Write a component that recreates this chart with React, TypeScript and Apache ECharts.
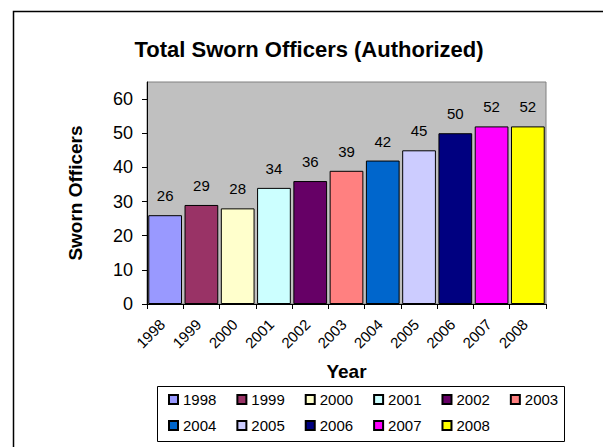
import React, { useEffect, useRef } from "react";
import * as echarts from "echarts";

const years = ["1998", "1999", "2000", "2001", "2002", "2003", "2004", "2005", "2006", "2007", "2008"];
const officers = [26, 29, 28, 34, 36, 39, 42, 45, 50, 52, 52];
const barColors = ["#9999FF", "#993366", "#FFFFCC", "#CCFFFF", "#660066", "#FF8080", "#0066CC", "#CCCCFF", "#000080", "#FF00FF", "#FFFF00"];
const yTicks = [0, 10, 20, 30, 40, 50, 60];
const legendRow1 = years.slice(0, 6);
const legendRow2 = years.slice(6);

const FONT = 'Arial, "Liberation Sans", sans-serif';

export default function App() {
  const ref = useRef<HTMLDivElement>(null);
  useEffect(() => {
    if (!ref.current) return;
    const chart = echarts.init(ref.current, null, { renderer: "svg" });
    const series = years.map((y, i) => ({
      name: y,
      type: "bar",
      stack: "all",
      barCategoryGap: "7%",
      data: years.map((_, j) => (j === i ? officers[i] : "-")),
      itemStyle: { color: barColors[i], borderColor: "#000", borderWidth: 1 },
      label: {
        show: true,
        position: "top",
        distance: 12,
        fontSize: 15,
        color: "#000",
        fontFamily: FONT,
      },
    }));
    const legendCommon = {
      left: 168,
      orient: "horizontal",
      itemWidth: 9,
      itemHeight: 9,
      itemGap: 20,
      itemTextGap: 6,
      padding: 0,
      icon: "rect",
      selectedMode: false,
      textStyle: { fontSize: 15, color: "#000", fontFamily: FONT },
    };
    chart.setOption({
      animation: false,
      backgroundColor: "#fff",
      title: {
        text: "Total Sworn Officers (Authorized)",
        left: 304,
        top: 33,
        textAlign: "center",
        textStyle: { fontSize: 22, fontWeight: "bold", color: "#000", fontFamily: FONT },
      },
      legend: [
        { ...legendCommon, top: 392, data: legendRow1 },
        { ...legendCommon, top: 418, data: legendRow2 },
      ],
      grid: {
        left: 147,
        top: 82,
        width: 399,
        height: 222,
        show: true,
        backgroundColor: "#C0C0C0",
        borderColor: "#808080",
        borderWidth: 1,
      },
      xAxis: {
        type: "category",
        data: years,
        name: "Year",
        nameLocation: "middle",
        nameGap: 58,
        nameTextStyle: { fontSize: 19, fontWeight: "bold", color: "#000", fontFamily: FONT },
        axisLine: { show: true, lineStyle: { color: "#000", width: 1 } },
        axisTick: { show: true, length: 5, interval: 0, lineStyle: { color: "#000" } },
        axisLabel: {
          rotate: 45,
          interval: 0,
          margin: 15,
          padding: [0, 4, 0, 0],
          fontSize: 15,
          color: "#000",
          fontFamily: FONT,
        },
        splitLine: { show: false },
      },
      yAxis: {
        type: "value",
        min: 0,
        max: 65,
        interval: 10,
        name: "Sworn Officers",
        nameLocation: "middle",
        nameRotate: 90,
        nameGap: 62,
        nameTextStyle: { fontSize: 19, fontWeight: "bold", color: "#000", fontFamily: FONT },
        axisLine: { show: true, lineStyle: { color: "#000", width: 1 } },
        axisTick: { show: true, length: 5, customValues: yTicks, lineStyle: { color: "#000" } },
        axisLabel: { margin: 14, fontSize: 18, color: "#000", fontFamily: FONT, customValues: yTicks },
        splitLine: { show: false },
      },
      graphic: [
        {
          type: "rect",
          shape: { x: 13.5, y: 11.5, width: 700, height: 500 },
          style: { fill: "none", stroke: "#000", lineWidth: 1.5 },
          silent: true,
        },
        {
          type: "rect",
          shape: { x: 157.5, y: 386.5, width: 407, height: 55 },
          style: { fill: "none", stroke: "#000", lineWidth: 1 },
          silent: true,
        },
      ],
      series,
    });
    return () => chart.dispose();
  }, []);
  return <div ref={ref} style={{ position: "fixed", left: 0, top: 0, width: 603, height: 447 }} />;
}
